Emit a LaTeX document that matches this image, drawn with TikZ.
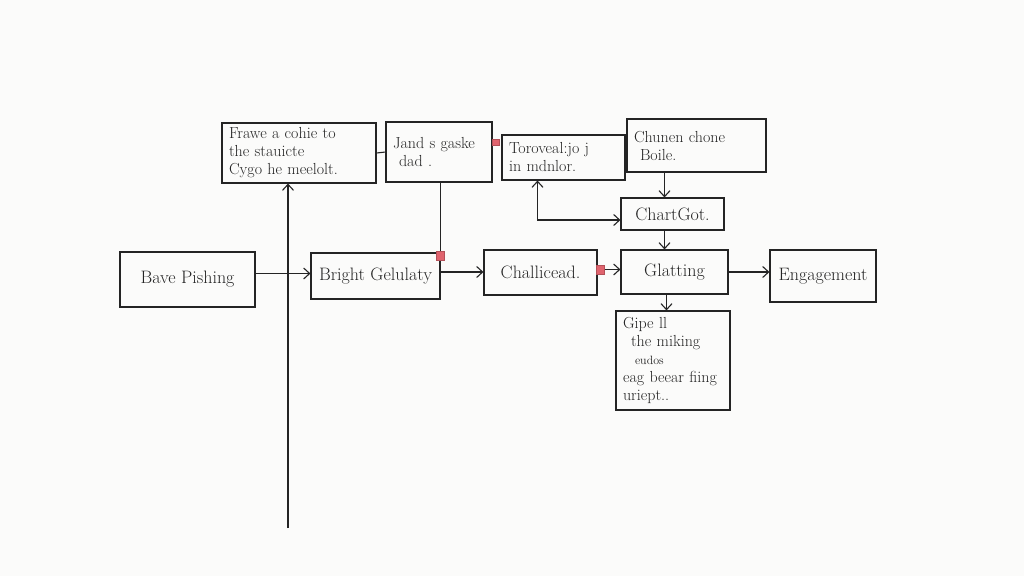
\documentclass[tikz,border=0pt]{standalone}
\usepackage{tikz}
\usetikzlibrary{arrows.meta}

\definecolor{ink}{HTML}{242424}
\definecolor{redtab}{HTML}{E0646E}
\definecolor{sheet}{HTML}{FBFBFA}

\begin{document}
\begin{tikzpicture}[
  x=1pt, y=-1pt,
  box/.style={draw=ink, line width=1.1pt, rectangle, inner xsep=7pt, inner ysep=4pt, align=left, text=ink, font=\fontsize{16}{18}\selectfont},
  lbl/.style={box, align=center, font=\fontsize{18}{20}\selectfont},
  tab/.style={fill=redtab, draw=redtab!80!black, line width=0.4pt, inner sep=0pt, minimum width=8pt, minimum height=9pt},
  arr/.style={-{Straight Barb[length=6pt,width=11pt]}, line width=1.1pt, draw=ink},
  both/.style={{Straight Barb[length=6pt,width=11pt]}-{Straight Barb[length=6pt,width=11pt]}, line width=1.1pt, draw=ink},
  wire/.style={line width=1.1pt, draw=ink},
]
\fill[sheet] (0,0) rectangle (1024,576);
\useasboundingbox (0,0) rectangle (1024,576);

% top row
\node[box, text width=140pt, minimum height=60pt] (frame) at (299,153) {Frawe a cohie to\\ the stauicte\\ Cygo he meelolt.};
\node[box, text width=92pt, minimum height=60pt] (jand) at (439,152) {Jand s gaske\\ \hspace*{6pt}dad .};
\node[box, text width=109pt, minimum height=45pt] (torov) at (563.5,157.5) {Toroveal:jo j\\ in mdnlor.};
\node[box, text width=125pt, minimum height=53pt] (chunen) at (696.5,145.5) {Chunen chone\\ \hspace*{6pt}Boile.};
\node[lbl, minimum width=103pt, minimum height=32pt] (chart) at (672.5,214) {ChartGot.};

% main row
\node[lbl, minimum width=135pt, minimum height=55pt] (bave) at (187.5,279.5) {Bave Pishing};
\node[lbl, minimum width=129pt, minimum height=46pt] (bright) at (375.5,276) {Bright Gelulaty};
\node[lbl, minimum width=113pt, minimum height=45pt] (chall) at (540.5,272.5) {Challicead.};
\node[lbl, minimum width=107pt, minimum height=44pt] (glat) at (674.5,272) {Glatting};
\node[lbl, minimum width=106pt, minimum height=52pt] (engage) at (823,276) {Engagement};
\node[box, text width=100pt, minimum height=99pt] (gipe) at (673,360.5) {Gipe ll\\ \hspace*{8pt}the miking\\ \hspace*{12pt}{\fontsize{12}{18}\selectfont eudos}\\ eag beear fiing\\ uriept..};

% red tabs
\node[tab] (tabR) at ([yshift=-3pt]bright.north east) {};
\node[tab] (tabC) at ([xshift=3pt,yshift=3pt]chall.east) {};
\node[tab, minimum width=7pt, minimum height=6pt] (tabJ) at ([xshift=3pt,yshift=10pt]jand.east) {};

% connectors
\coordinate (base) at (288,528);
\draw[arr] (base) -- (base |- frame.south);
\draw[wire] (frame.east) -- (jand.west);
\draw[wire] (bright.north east |- jand.south) -- (tabR);
\draw[arr] ([yshift=6pt]bave.east) -- ([yshift=6pt]bave.east -| bright.west);
\draw[arr] ([yshift=4pt]bright.east) -- ([yshift=4pt]bright.east -| chall.west);
\draw[arr] (tabC) -- (tabC -| glat.west);
\draw[arr] (glat.east) -- (glat.east -| engage.west);
\draw[arr] ([xshift=-8pt]chart.north |- chunen.south) -- ([xshift=-8pt]chart.north);
\draw[both] ([xshift=-26pt]torov.south) |- ([yshift=-6pt]chart.west);
\draw[arr] ([xshift=-8pt]chart.south) -- ([xshift=-8pt]chart.south |- glat.north);
\draw[arr] ([xshift=-8pt]glat.south) -- ([xshift=-8pt]glat.south |- gipe.north);
\end{tikzpicture}
\end{document}
